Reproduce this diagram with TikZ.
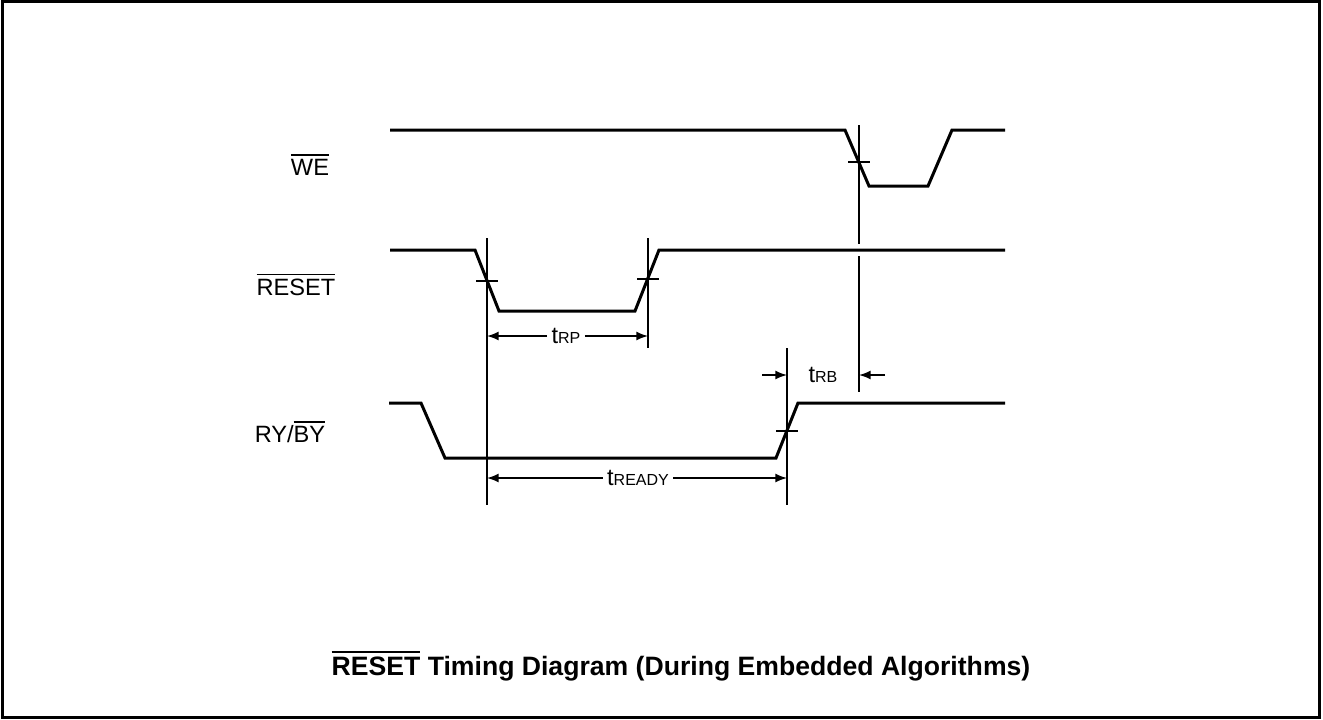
\documentclass[tikz,border=0pt]{standalone}
\usepackage{fontspec}
\setmainfont{Liberation Sans}
\usetikzlibrary{positioning}
\newcommand{\ovl}[2][0.6pt]{\setbox0\hbox{#2}\rlap{\raisebox{\dimexpr\ht0+1.8pt\relax}{\rule{\wd0}{#1}}}\box0\relax}
\newcommand{\tsig}[1]{t{\fontsize{8}{9}\selectfont #1}}

\begin{document}
\begin{tikzpicture}[x=0.5pt,y=-0.5pt,
	sig/.style={line width=1.5pt},
	vline/.style={line width=1pt},
	tickln/.style={line width=1pt},
	lab/.style={font=\fontsize{11.8}{14}\selectfont},
	dim/.style={line width=1pt,-latex},
	dimlab/.style={lab,fill=white,inner sep=2pt}]
\useasboundingbox (0,0) rectangle (1323,719);
\draw [line width=1.5pt] (2.5,1.5) rectangle (1319.5,717);

% signal names
\node [lab] (we) at (310,165) {\ovl{WE}};
\node [lab] (reset) at (296,285) {\ovl{RESET}};
\node [lab] (ryby) at (290,432) {RY/\ovl{BY}};

% waveforms
\draw [sig] (390,130) -- (845,130) -- (869,186) -- (928,186) -- (952,130) -- (1005,130);
\draw [sig] (390,250) -- (475,250) -- (499,311) -- (635,311) -- (659,250) -- (1005,250);
\draw [sig] (389,403) -- (421,403) -- (445,458) -- (776,458) -- (798,403) -- (1005,403);

% reference points
\coordinate (wex) at (859,162);
\coordinate (rsa) at (487,281);
\coordinate (rsb) at (648,279);
\coordinate (ryx) at (787,431);

% ticks
\draw [tickln] (848,162) -- (870,162);
\draw [tickln] (476,281) -- (498,281);
\draw [tickln] (637,279) -- (659,279);
\draw [tickln] (776,431) -- (798,431);

% vertical lines
\draw [vline] (wex |- 0,125) -- (wex |- 0,244);
\draw [vline] (wex |- 0,256) -- (wex |- 0,392);
\draw [vline] (rsa |- 0,238) -- (rsa |- 0,505);
\draw [vline] (rsb |- 0,238) -- (rsb |- 0,348);
\draw [vline] (ryx |- 0,348) -- (ryx |- 0,505);

% timing labels
\node [dimlab] (trp) at (566,336) {\tsig{RP}};
\draw [dim] (trp) -- (rsa |- trp);
\draw [dim] (trp) -- (rsb |- trp);
\node [dimlab] (tready) at (638,478) {\tsig{READY}};
\draw [dim] (tready) -- (rsa |- tready);
\draw [dim] (tready) -- (ryx |- tready);
\node [lab] (trb) at (823,375) {\tsig{RB}};
\coordinate (trbl) at (762,375);
\coordinate (trbr) at (885,375);
\draw [dim] (trbl) -- (ryx |- trbl);
\draw [dim] (trbr) -- (wex |- trbr);

% title
\node [font=\fontsize{13.3}{15}\selectfont\bfseries] (title) at (681,666)
	{\ovl[1.2pt]{RESET} Timing Diagram (During Embedded Algorithms)};
\end{tikzpicture}
\end{document}
